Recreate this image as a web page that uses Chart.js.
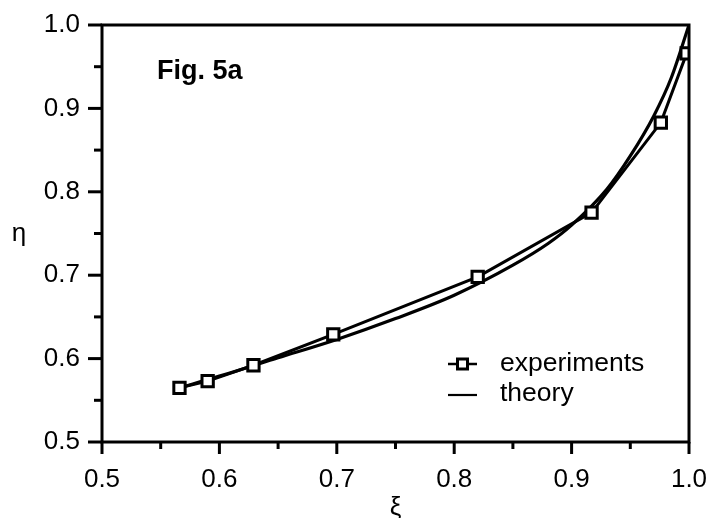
<!DOCTYPE html>
<html>
<head>
<meta charset="utf-8">
<script src="https://cdn.jsdelivr.net/npm/chart.js@4.4.0/dist/chart.umd.min.js"></script>
<style>
  html, body { margin: 0; padding: 0; background: #fff; }
  #wrap { width: 711px; height: 518px; }
</style>
</head>
<body>
<div id="wrap"><canvas id="fig"></canvas></div>
<script>
// values
const xiExp = [0.566, 0.590, 0.629, 0.697, 0.820, 0.917, 0.976, 0.998];
const etaExp = [0.565, 0.573, 0.592, 0.629, 0.698, 0.775, 0.883, 0.966];
const xiTheory = [0.566, 0.60, 0.65, 0.70, 0.75, 0.80, 0.85, 0.88, 0.90, 0.93, 0.95, 0.97, 0.985, 1.0];
const etaTheory = [0.565, 0.579, 0.601, 0.623, 0.648, 0.676, 0.712, 0.738, 0.760, 0.803, 0.843, 0.891, 0.937, 1.0];
const xTicks = [0.5, 0.6, 0.7, 0.8, 0.9, 1.0];
const yTicks = [0.5, 0.6, 0.7, 0.8, 0.9, 1.0];

const FONT = "'Liberation Sans', Arial, Helvetica, sans-serif";

function pts(xs, ys) {
  return xs.map((x, i) => ({ x: x, y: ys[i] }));
}

function isMajor(v, list) {
  return list.some((t) => Math.abs(t - v) < 1e-6);
}

// frame, major/minor ticks, titles and legend
const decorations = {
  id: "decorations",
  afterDraw(chart) {
    const ctx = chart.ctx;
    const a = chart.chartArea;
    const xs = chart.scales.x;
    const ys = chart.scales.y;
    ctx.save();
    ctx.strokeStyle = "#000";
    ctx.lineWidth = 3;
    ctx.lineCap = "square";
    ctx.strokeRect(a.left, a.top, a.right - a.left, a.bottom - a.top);

    // x ticks
    const xMinor = xTicks.slice(1).map((t, i) => (t + xTicks[i]) / 2);
    ctx.lineCap = "butt";
    xTicks.forEach((t) => {
      const px = xs.getPixelForValue(t);
      ctx.beginPath(); ctx.moveTo(px, a.bottom); ctx.lineTo(px, a.bottom + 12); ctx.stroke();
    });
    xMinor.forEach((t) => {
      const px = xs.getPixelForValue(t);
      ctx.beginPath(); ctx.moveTo(px, a.bottom); ctx.lineTo(px, a.bottom + 7); ctx.stroke();
    });
    // y ticks
    const yMinor = yTicks.slice(1).map((t, i) => (t + yTicks[i]) / 2);
    yTicks.forEach((t) => {
      const py = ys.getPixelForValue(t);
      ctx.beginPath(); ctx.moveTo(a.left, py); ctx.lineTo(a.left - 14, py); ctx.stroke();
    });
    yMinor.forEach((t) => {
      const py = ys.getPixelForValue(t);
      ctx.beginPath(); ctx.moveTo(a.left, py); ctx.lineTo(a.left - 8, py); ctx.stroke();
    });

    ctx.fillStyle = "#000";
    // axis titles
    ctx.font = "26px " + FONT;
    ctx.textAlign = "center";
    ctx.textBaseline = "middle";
    ctx.fillText("ξ", (a.left + a.right) / 2, 508);
    ctx.fillText("η", 19, 234);

    // figure tag
    ctx.font = "bold 27px " + FONT;
    ctx.textAlign = "left";
    ctx.fillText("Fig. 5a", 157, 72);

    // legend
    const lx = 448, lw = 29;
    ctx.font = "26.5px " + FONT;
    ctx.lineWidth = 2.5;
    ctx.beginPath(); ctx.moveTo(lx, 364); ctx.lineTo(lx + lw, 364); ctx.stroke();
    ctx.fillStyle = "#fff";
    ctx.fillRect(lx + lw / 2 - 5, 359, 10, 10);
    ctx.lineWidth = 3;
    ctx.strokeRect(lx + lw / 2 - 5, 359, 10, 10);
    ctx.fillStyle = "#000";
    ctx.fillText("experiments", 500, 364);
    ctx.lineWidth = 2.2;
    ctx.beginPath(); ctx.moveTo(lx, 395); ctx.lineTo(lx + lw, 395); ctx.stroke();
    ctx.fillText("theory", 500, 394);
    ctx.restore();
  },
};

new Chart(document.getElementById("fig"), {
  type: "scatter",
  data: {
    datasets: [
      {
        label: "experiments",
        data: pts(xiExp, etaExp),
        showLine: true,
        borderColor: "#000",
        borderWidth: 3,
        pointStyle: "rect",
        pointRadius: 8,
        pointBorderWidth: 3,
        pointBackgroundColor: "#fff",
        pointBorderColor: "#000",
        tension: 0,
      },
      {
        label: "theory",
        data: pts(xiTheory, etaTheory),
        showLine: true,
        borderColor: "#000",
        borderWidth: 3.2,
        pointRadius: 0,
        cubicInterpolationMode: "monotone",
      },
    ],
  },
  options: {
    responsive: true,
    maintainAspectRatio: false,
    animation: false,
    devicePixelRatio: 1,
    layout: { padding: { top: 25, right: 22, left: 0, bottom: 0 } },
    scales: {
      x: {
        type: "linear",
        min: 0.5,
        max: 1.0,
        grid: { display: false, drawTicks: false },
        border: { display: false },
        ticks: {
          stepSize: 0.05,
          padding: 22,
          color: "#000",
          font: { family: FONT, size: 26 },
          maxRotation: 0,
          autoSkip: false,
          callback: (v) => (isMajor(v, xTicks) ? v.toFixed(1) : ""),
        },
        afterFit: (s) => {
          s.height = 76;
          s.paddingLeft = 0;
          s.paddingRight = 0;
        },
      },
      y: {
        type: "linear",
        min: 0.5,
        max: 1.0,
        grid: { display: false, drawTicks: false },
        border: { display: false },
        ticks: {
          stepSize: 0.05,
          padding: 22,
          color: "#000",
          font: { family: FONT, size: 26 },
          autoSkip: false,
          callback: (v) => (isMajor(v, yTicks) ? v.toFixed(1) : ""),
        },
        afterFit: (s) => {
          s.width = 102;
          s.paddingTop = 0;
          s.paddingBottom = 0;
        },
      },
    },
    plugins: {
      legend: { display: false },
      tooltip: { enabled: false },
    },
  },
  plugins: [decorations],
});
</script>
</body>
</html>
